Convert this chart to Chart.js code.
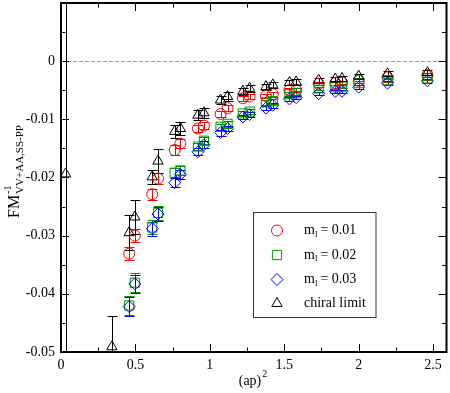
<!DOCTYPE html>
<html>
<head>
<meta charset="utf-8">
<script src="https://cdn.jsdelivr.net/npm/chart.js@4"></script>
<style>
  html, body { margin: 0; padding: 0; background: #fff; }
  #wrap { width: 450px; height: 393px; }
</style>
</head>
<body>
<div id="wrap"><canvas id="chart" width="450" height="393"></canvas></div>
<script>
// (ap)^2 values shared by the three masses
const apSq = [0.458, 0.496, 0.613, 0.652, 0.764, 0.802, 0.920, 0.960, 1.072, 1.119,
  1.222, 1.267, 1.377, 1.423, 1.535, 1.580, 1.731, 1.843, 1.888, 2.000, 2.194, 2.462];

const m01 = [-0.0331, -0.0300, -0.0229, -0.0202, -0.0153, -0.0142, -0.0116, -0.0111, -0.0091, -0.0081,
  -0.0064, -0.0061, -0.0060, -0.0057, -0.0050, -0.0050, -0.0039, -0.0038, -0.0037, -0.0034, -0.0028, -0.0024];
const m02 = [-0.0420, -0.0381, -0.0286, -0.0261, -0.0192, -0.0188, -0.0147, -0.0137, -0.0113, -0.0108,
  -0.0090, -0.0087, -0.0071, -0.0069, -0.0057, -0.0055, -0.0047, -0.0045, -0.0044, -0.0038, -0.0033, -0.0030];
const m03 = [-0.0422, -0.0383, -0.0288, -0.0263, -0.0209, -0.0195, -0.0156, -0.0144, -0.0123, -0.0116,
  -0.0096, -0.0092, -0.0081, -0.0076, -0.0065, -0.0063, -0.0056, -0.0052, -0.0052, -0.0045, -0.0038, -0.0034];

const m01Err = [0.0011, 0.0011, 0.0009, 0.0009, 0.0008, 0.0008, 0.0006, 0.0006, 0.0005, 0.0005,
  0.0004, 0.0004, 0.0004, 0.0004, 0.0003, 0.0003, 0.0003, 0.0003, 0.0003, 0.0003, 0.0003, 0.0003];
const m02Err = [0.0016, 0.0016, 0.0012, 0.0012, 0.0008, 0.0008, 0.0006, 0.0006, 0.0005, 0.0005,
  0.0004, 0.0004, 0.0004, 0.0004, 0.0003, 0.0003, 0.0003, 0.0003, 0.0003, 0.0003, 0.0003, 0.0003];
const m03Err = m02Err;

// chiral limit has two extra points at small (ap)^2
const chiralX = [0.031, 0.342].concat(apSq);
const chiralY = [-0.0194, -0.0491, -0.0295, -0.0268, -0.0199, -0.0172, -0.0121, -0.0116, -0.0093, -0.0089,
  -0.0067, -0.0061, -0.0052, -0.0047, -0.0044, -0.0041, -0.0037, -0.0036, -0.0033, -0.0031, -0.0030,
  -0.0026, -0.0022, -0.0020];
const chiralErr = [0.04, 0.0053, 0.0030, 0.0029, 0.0012, 0.0020, 0.0011, 0.0011, 0.0009, 0.0009,
  0.0007, 0.0007, 0.0006, 0.0006, 0.0005, 0.0005, 0.0005, 0.0005, 0.0004, 0.0004, 0.0004,
  0.0004, 0.0004, 0.0004];

const xMajor = [0, 0.5, 1, 1.5, 2, 2.5];
const xMinor = [0.25, 0.75, 1.25, 1.75, 2.25];
const yMajor = [0, -0.01, -0.02, -0.03, -0.04, -0.05];
const yMinor = [0.005, -0.005, -0.015, -0.025, -0.035, -0.045];

const massLabels = ['0.01', '0.02', '0.03'];
const chiralLabel = 'chiral limit';

const SERIF = '"Liberation Serif", "DejaVu Serif", serif';
const GREEN = 'rgb(0,150,0)';
const PLOT = { top: 3, right: 446.5 };

const pts = (xs, ys) => xs.map((v, i) => ({ x: v, y: ys[i] }));

function mkSet(label, xs, ys, errs, color, style, r, order) {
  return {
    label, data: pts(xs, ys), errors: errs,
    borderColor: color, backgroundColor: 'rgba(0,0,0,0)',
    pointStyle: style, pointRadius: r, pointHoverRadius: r,
    pointBorderWidth: 1, showLine: false, order
  };
}

const datasets = [
  mkSet('m = 0.01', apSq, m01, m01Err, 'rgb(255,0,0)', 'circle', 5.5, 4),
  mkSet('m = 0.02', apSq, m02, m02Err, GREEN, 'rect', 6.5, 3),
  mkSet('m = 0.03', apSq, m03, m03Err, 'rgb(0,0,255)', 'rectRot', 6, 2),
  mkSet(chiralLabel, chiralX, chiralY, chiralErr, '#000', 'triangle', 6, 1)
];

function drawTitles(ctx) {
  // x title: (ap)^2
  ctx.fillStyle = '#000';
  ctx.textBaseline = 'alphabetic';
  ctx.textAlign = 'left';
  ctx.font = '14px ' + SERIF;
  const base = '(ap)';
  const w = ctx.measureText(base).width;
  ctx.font = '10px ' + SERIF;
  const w2 = ctx.measureText('2').width;
  const x0 = 253 - (w + w2 + 1) / 2;
  ctx.font = '14px ' + SERIF;
  ctx.fillText(base, x0, 385);
  ctx.font = '10px ' + SERIF;
  ctx.fillText('2', x0 + w + 1, 377);

  // y title: FM^-1 with subscript
  ctx.save();
  ctx.translate(19, 218);
  ctx.rotate(-Math.PI / 2);
  ctx.font = '16px ' + SERIF;
  ctx.fillText('FM', 0, 0);
  const fw = ctx.measureText('FM').width;
  ctx.font = '10px ' + SERIF;
  ctx.fillText('-1', fw + 1, -8);
  ctx.font = '11px ' + SERIF;
  ctx.fillText('VV+AA,SS-PP', fw + 1, 4);
  ctx.restore();
}

function drawLegend(ctx) {
  ctx.save();
  ctx.strokeStyle = '#333';
  ctx.lineWidth = 1;
  ctx.fillStyle = '#fff';
  ctx.fillRect(253.5, 212.5, 122.5, 105);
  ctx.strokeRect(253.5, 212.5, 122.5, 105);
  const rows = [230.5, 255, 279.5, 303.5];
  datasets.forEach((ds, i) => {
    const y = rows[i];
    ctx.strokeStyle = ds.borderColor;
    ctx.fillStyle = 'rgba(0,0,0,0)';
    ctx.lineWidth = 1;
    Chart.helpers.drawPoint(ctx, { pointStyle: ds.pointStyle, radius: ds.pointRadius, borderWidth: 1 }, 277, y);
    ctx.fillStyle = '#000';
    ctx.textBaseline = 'middle';
    ctx.textAlign = 'left';
    if (i < massLabels.length) {
      ctx.font = '14px ' + SERIF;
      ctx.fillText('m', 304, y);
      const mw = ctx.measureText('m').width;
      ctx.font = '9px ' + SERIF;
      ctx.fillText('l', 304 + mw, y + 4);
      ctx.font = '14px ' + SERIF;
      ctx.fillText(' = ' + massLabels[i], 304 + mw + 2, y);
    } else {
      ctx.font = '14px ' + SERIF;
      ctx.fillText(chiralLabel, 304, y);
    }
  });
  ctx.restore();
}

const decor = {
  id: 'decor',
  // pin the plot frame: tick-label padding would otherwise push it in
  afterLayout(chart) {
    const a = chart.chartArea, { x, y } = chart.scales;
    a.top = PLOT.top; a.height = a.bottom - a.top;
    a.right = PLOT.right; a.width = a.right - a.left;
    y.top = PLOT.top; y.height = y.bottom - y.top; y.configure();
    x.right = PLOT.right; x.width = x.right - x.left; x.configure();
  },
  beforeDatasetsDraw(chart) {
    const { ctx, chartArea: a, scales: { x, y } } = chart;
    ctx.save();
    ctx.beginPath();
    ctx.rect(a.left, a.top, a.right - a.left, a.bottom - a.top);
    ctx.clip();
    // dashed zero line
    const y0 = Math.round(y.getPixelForValue(0)) + 0.5;
    ctx.strokeStyle = '#9a9a9a';
    ctx.lineWidth = 1;
    ctx.setLineDash([4, 2]);
    ctx.beginPath();
    ctx.moveTo(a.left, y0);
    ctx.lineTo(a.right, y0);
    ctx.stroke();
    ctx.setLineDash([]);
    // error bars
    chart.data.datasets.forEach(ds => {
      ctx.strokeStyle = ds.borderColor;
      ds.data.forEach((p, j) => {
        const e = ds.errors[j];
        const px = Math.round(x.getPixelForValue(p.x)) + 0.5;
        const lo = Math.round(y.getPixelForValue(p.y - e)) + 0.5;
        const hi = Math.round(y.getPixelForValue(p.y + e)) + 0.5;
        ctx.beginPath();
        ctx.moveTo(px, lo); ctx.lineTo(px, hi);
        ctx.moveTo(px - 5, lo); ctx.lineTo(px + 5, lo);
        ctx.moveTo(px - 5, hi); ctx.lineTo(px + 5, hi);
        ctx.stroke();
      });
    });
    ctx.restore();
  },
  afterDraw(chart) {
    const { ctx, chartArea: a, scales: { x, y } } = chart;
    ctx.save();
    ctx.strokeStyle = '#000';
    ctx.lineWidth = 1;
    const tick = (x1, y1, x2, y2) => { ctx.beginPath(); ctx.moveTo(x1, y1); ctx.lineTo(x2, y2); ctx.stroke(); };
    [[xMajor, 8], [xMinor, 4.5]].forEach(([vals, len]) => vals.forEach(v => {
      const px = Math.round(x.getPixelForValue(v)) + 0.5;
      tick(px, a.bottom, px, a.bottom - len);
      tick(px, a.top, px, a.top + len);
    }));
    [[yMajor, 8], [yMinor, 4.5]].forEach(([vals, len]) => vals.forEach(v => {
      const py = Math.round(y.getPixelForValue(v)) + 0.5;
      tick(a.left, py, a.left + len, py);
      tick(a.right, py, a.right - len, py);
    }));
    ctx.lineWidth = 2;
    ctx.strokeRect(a.left, a.top, a.right - a.left, a.bottom - a.top);
    ctx.restore();
    drawLegend(ctx);
    drawTitles(ctx);
  }
};

new Chart(document.getElementById('chart'), {
  type: 'scatter',
  data: { datasets },
  options: {
    responsive: false,
    animation: false,
    events: [],
    layout: { padding: { left: 0, right: 3.5, top: 3, bottom: 0 } },
    plugins: { legend: { display: false }, tooltip: { enabled: false } },
    scales: {
      x: {
        type: 'linear', min: 0, max: 2.59,
        grid: { display: false, drawTicks: false },
        border: { display: false },
        afterBuildTicks: s => { s.ticks = xMajor.map(v => ({ value: v })); },
        afterFit: s => { s.height = 41; },
        ticks: { color: '#000', font: { family: SERIF, size: 14 }, padding: 5, maxRotation: 0,
          callback: v => String(+v.toFixed(2)) }
      },
      y: {
        type: 'linear', min: -0.05, max: 0.00997,
        grid: { display: false, drawTicks: false },
        border: { display: false },
        afterBuildTicks: s => { s.ticks = yMajor.map(v => ({ value: v })); },
        afterFit: s => { s.width = 61; },
        ticks: { color: '#000', font: { family: SERIF, size: 14 }, padding: 6,
          callback: v => String(+v.toFixed(3)) }
      }
    }
  },
  plugins: [decor]
});
</script>
</body>
</html>
